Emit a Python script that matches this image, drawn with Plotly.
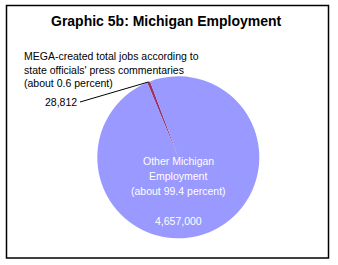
import math
import plotly.graph_objects as go

# ---- data ----
labels = ["MEGA-created total jobs", "Other Michigan Employment"]
values = [28812, 4657000]
value_text = ["28,812", "4,657,000"]
label_text = [
    "MEGA-created total jobs according to<br>state officials' press commentaries<br>(about 0.6 percent)",
    "Other Michigan<br>Employment<br>(about 99.4 percent)",
]
colors = ["#993366", "#9999FF"]
title_text = "Graphic 5b: Michigan Employment"

W, H = 338, 265
FONT = "Liberation Sans, Arial, sans-serif"

# pie geometry (pixels)
cx, cy, r = 178.3, 157.3, 81.0
mid_angle = -21.5  # clockwise degrees from 12 o'clock, centre of first slice
total = sum(values)
frac0 = values[0] / total
rotation = mid_angle - 0.5 * frac0 * 360

def px(x):
    return x / W

def py(y):
    return 1 - y / H

fig = go.Figure(
    go.Pie(
        labels=labels,
        values=values,
        sort=False,
        direction="clockwise",
        rotation=rotation,
        marker=dict(colors=colors, line=dict(width=0)),
        textinfo="none",
        hoverinfo="none",
        showlegend=False,
        domain=dict(x=[px(cx - r), px(cx + r)], y=[py(cy + r), py(cy - r)]),
    )
)

# leader line endpoint on the slice edge
ang = math.radians(mid_angle)
ex = cx + r * math.sin(ang)
ey = cy - r * math.cos(ang)

shapes = [
    dict(type="rect", xref="paper", yref="paper",
         x0=px(6.5), x1=px(328.5), y0=py(258), y1=py(5.5),
         line=dict(color="black", width=1.5), fillcolor="rgba(0,0,0,0)", layer="below"),
    dict(type="line", xref="paper", yref="paper",
         x0=px(80), y0=py(102), x1=px(ex), y1=py(ey),
         line=dict(color="black", width=1)),
]

annotations = [
    dict(text=title_text, x=px(166), y=py(21), xref="paper", yref="paper",
         xanchor="center", yanchor="middle", showarrow=False,
         font=dict(family=FONT, size=14, color="black", weight="bold")),
    dict(text=label_text[0], x=px(22), y=py(70), xref="paper", yref="paper",
         xanchor="left", yanchor="middle", align="left", showarrow=False,
         font=dict(family=FONT, size=10.5, color="black")),
    dict(text=value_text[0], x=px(79), y=py(102), xref="paper", yref="paper",
         xanchor="right", yanchor="middle", showarrow=False,
         font=dict(family=FONT, size=10.5, color="black")),
]

inner_lines = label_text[1].split("<br>")
for i, line in enumerate(inner_lines):
    annotations.append(dict(text=line, x=px(178), y=py(160.5 + 15 * i),
                            xref="paper", yref="paper", xanchor="center",
                            yanchor="middle", showarrow=False,
                            font=dict(family=FONT, size=10.5, color="white")))
annotations.append(dict(text=value_text[1], x=px(178), y=py(220.5),
                        xref="paper", yref="paper", xanchor="center",
                        yanchor="middle", showarrow=False,
                        font=dict(family=FONT, size=10.5, color="white")))

fig.update_layout(
    width=W, height=H,
    margin=dict(l=0, r=0, t=0, b=0),
    paper_bgcolor="white", plot_bgcolor="white",
    shapes=shapes, annotations=annotations,
)

fig.write_html("out.html", config={"displayModeBar": False})
